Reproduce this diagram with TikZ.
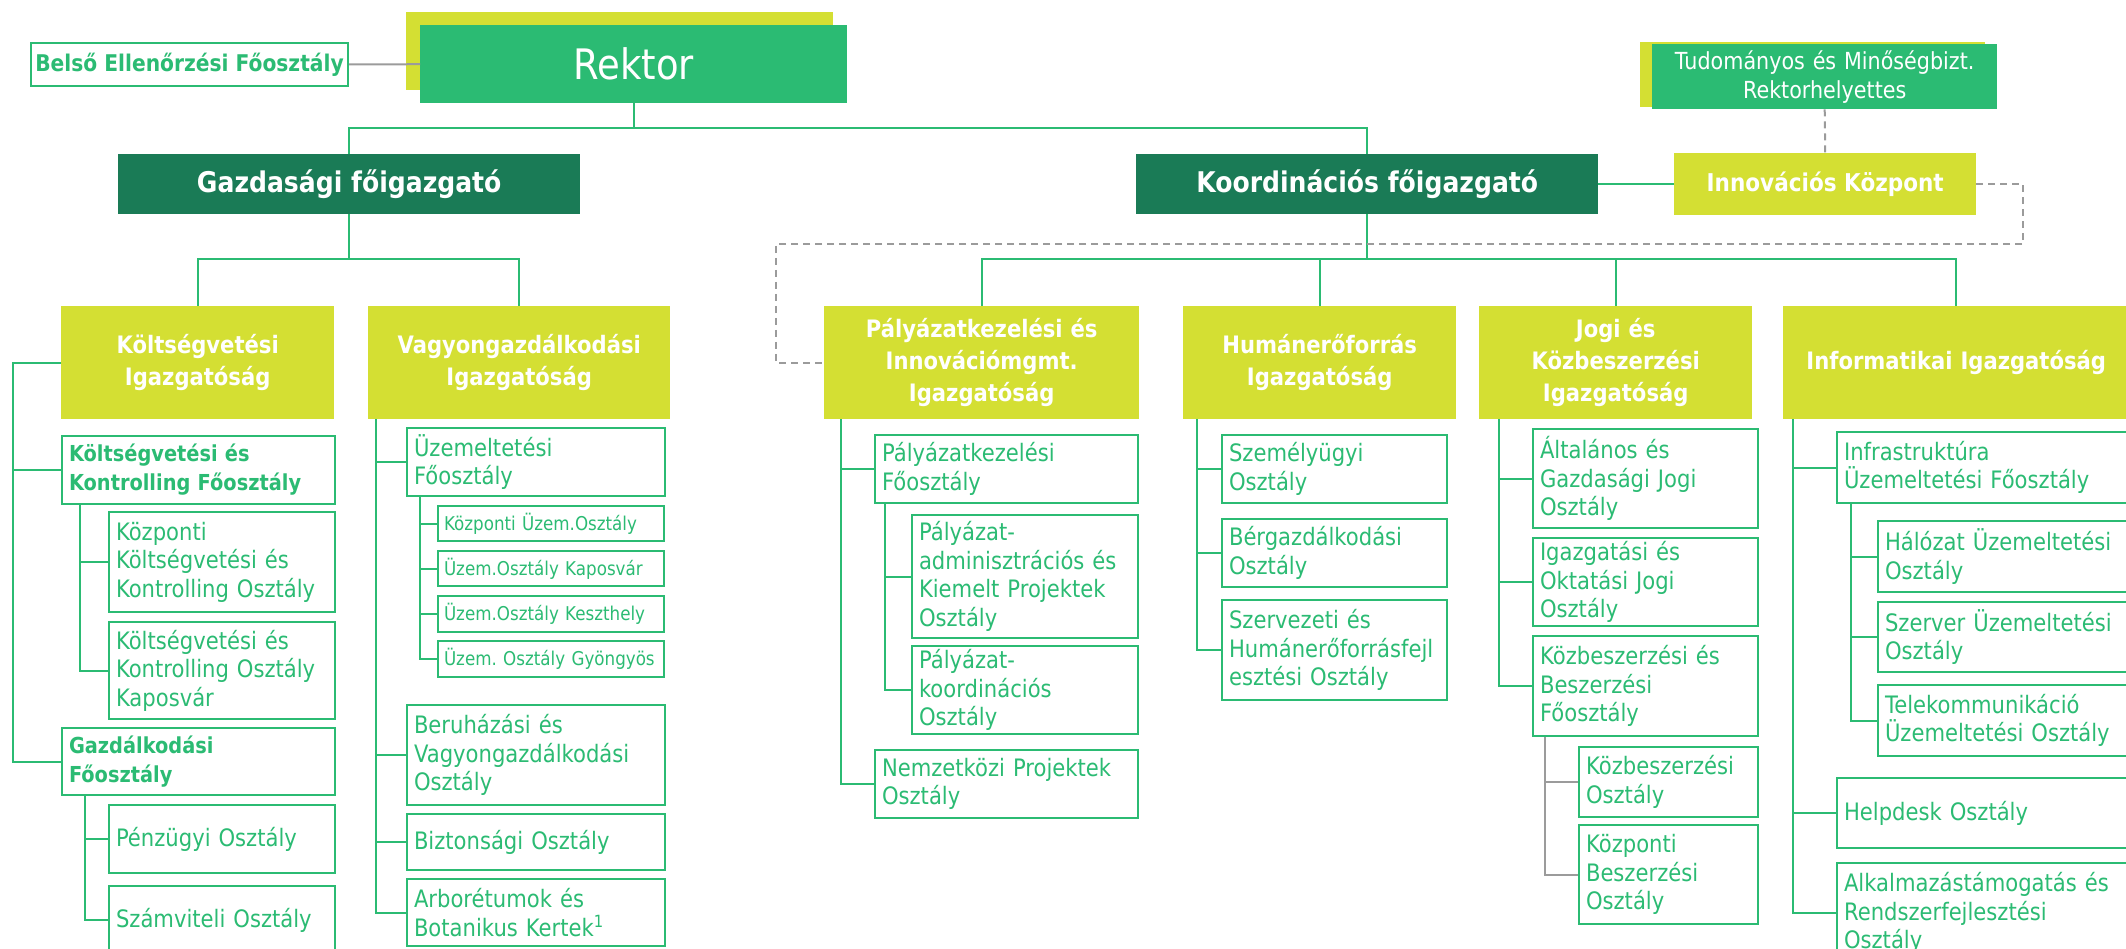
\documentclass[tikz,border=0pt]{standalone}
\usepackage{fontspec}
\setmainfont{DejaVu Sans}[FakeStretch=0.88]
\usetikzlibrary{calc}
\frenchspacing

\definecolor{lgreen}{HTML}{2BBB73}
\definecolor{dgreen}{HTML}{1A7B56}
\definecolor{yellowg}{HTML}{D4DF33}
\definecolor{lgray}{HTML}{9B9B9B}

\newcommand{\unitfont}{\fontsize{24}{28.6}\selectfont}
\newcommand{\unitbold}{\fontsize{22}{29}\selectfont\bfseries}
\newcommand{\smallunitfont}{\fontsize{19}{23}\selectfont}
\newcommand{\headfont}{\fontsize{24}{32}\selectfont\bfseries}

\begin{document}
\begin{tikzpicture}[x=1pt, y=-1pt,
    unit/.style={draw=lgreen, line width=2pt, fill=white, text=lgreen, anchor=north west,
      align=left, inner xsep=7pt, inner ysep=0pt, font=\unitfont},
    smallunit/.style={unit, inner xsep=6pt, font=\smallunitfont},
    head/.style={fill=yellowg, text=white, anchor=north west, align=center, inner sep=0pt,
      minimum height=113pt, font=\headfont},
    director/.style={fill=dgreen, text=white, anchor=north west, inner sep=0pt,
      minimum width=462pt, minimum height=60pt, font=\fontsize{28.5}{32}\selectfont\bfseries},
    staff/.style={draw=lgreen, line width=2pt, fill=white, text=lgreen, anchor=north west,
      inner sep=0pt, font=\fontsize{23}{26}\selectfont\bfseries},
    link/.style={draw=lgreen, line width=2pt},
    greylink/.style={draw=lgray, line width=2pt},
    dashline/.style={draw=lgray, line width=2pt, dash pattern=on 7pt off 5pt}]
    \useasboundingbox (0,0) rectangle (2126,949);

    % --- Top: Rektor, staff and deputy ---
    \fill[yellowg] (406,12) rectangle (833,90);
    \fill[yellowg] (1640,42) rectangle (1985,107);
    \node[fill=lgreen, text=white, anchor=north west, inner sep=0pt, minimum width=427pt,
      minimum height=78pt, font=\fontsize{42}{48}\selectfont] (rektor) at (420,25) {Rektor};
    \node[staff, minimum width=317pt, minimum height=43pt] (belso) at (30,42) {Belső Ellenőrzési Főosztály};
    \node[fill=lgreen, text=white, anchor=north west, inner sep=0pt, text width=345pt, align=center,
      minimum height=65pt, font=\fontsize{23.5}{29}\selectfont] (tud) at (1652,44) {Tudományos és Minőségbizt.\\Rektorhelyettes};
    \draw[greylink] (belso.east) -- (rektor.west);

    % --- Directors ---
    \node[director] (gazd) at (118,154) {Gazdasági főigazgató};
    \node[director] (koord) at (1136,154) {Koordinációs főigazgató};
    \node[fill=yellowg, text=white, anchor=north west, inner sep=0pt, minimum width=302pt,
      minimum height=62pt, font=\fontsize{24.5}{28}\selectfont\bfseries] (innov) at (1674,153) {Innovációs Központ};
    \draw[link] (rektor.south) -- ++(0,25) coordinate (rbus);
    \draw[link] (gazd.north) |- (rbus) -| (koord.north);
    \draw[link] (koord.east) -- (innov.west);
    \draw[dashline] (tud.south) -- (innov.north);

    % --- Directorates ---
    \node[head, text width=273pt] (kig) at (61,306) {Költségvetési\\Igazgatóság};
    \node[head, text width=302pt] (vig) at (368,306) {Vagyongazdálkodási\\Igazgatóság};
    \node[head, text width=315pt] (pig) at (824,306) {Pályázatkezelési és\\Innovációmgmt.\\Igazgatóság};
    \node[head, text width=273pt] (hig) at (1183,306) {Humánerőforrás\\Igazgatóság};
    \node[head, text width=273pt] (jig) at (1479,306) {Jogi és\\Közbeszerzési\\Igazgatóság};
    \node[head, text width=346pt] (iig) at (1783,306) {Informatikai Igazgatóság};
    \draw[link] (gazd.south) -- ++(0,45) coordinate (gbus);
    \draw[link] (kig.north) |- (gbus) -| (vig.north);
    \draw[link] (koord.south) -- ++(0,45) coordinate (kbus);
    \draw[link] (pig.north) |- (kbus) -| (iig.north);
    \draw[link] (hig.north) -- (hig.north |- kbus);
    \draw[link] (jig.north) -- (jig.north |- kbus);
    \draw[dashline] (innov.east) -- ++(47,0) |- (776,244) |- (pig.west);

    % --- Költségvetési Igazgatóság ---
    \node[unit, font=\unitbold, text width=259pt, minimum height=68pt] (kkf) at (61,435) {Költségvetési és\\Kontrolling Főosztály};
    \node[unit, text width=212pt, minimum height=100pt] (kkko) at (108,511) {Központi\\Költségvetési és\\Kontrolling Osztály};
    \node[unit, text width=212pt, minimum height=97pt] (kkok) at (108,621) {Költségvetési és\\Kontrolling Osztály\\Kaposvár};
    \node[unit, font=\unitbold, text width=259pt, minimum height=67pt] (gf) at (61,727) {Gazdálkodási\\Főosztály};
    \node[unit, text width=212pt, minimum height=68pt] (penz) at (108,804) {Pénzügyi Osztály};
    \node[unit, text width=212pt, minimum height=68pt] (szamv) at (108,885) {Számviteli Osztály};
    \draw[link] (kig.west) -- ++(-48,0) |- (gf.west);
    \draw[link] (kkf.west) -- ++(-48,0);
    \draw[link] ([xshift=19pt]kkf.south west) |- (kkok.west) ([xshift=19pt]kkf.south west) |- (kkko.west);
    \draw[link] ([xshift=24pt]gf.south west) |- (szamv.west) ([xshift=24pt]gf.south west) |- (penz.west);

    % --- Vagyongazdálkodási Igazgatóság ---
    \node[unit, text width=244pt, minimum height=68pt] (uzf) at (406,427) {Üzemeltetési\\Főosztály};
    \node[smallunit, text width=214pt, minimum height=35pt] (kuo) at (437,505) {Központi Üzem.Osztály};
    \node[smallunit, text width=214pt, minimum height=35pt] (kapo) at (437,550) {Üzem.Osztály Kaposvár};
    \node[smallunit, text width=214pt, minimum height=36pt] (kesz) at (437,595) {Üzem.Osztály Keszthely};
    \node[smallunit, text width=214pt, minimum height=36pt] (gyon) at (437,640) {Üzem. Osztály Gyöngyös};
    \node[unit, text width=244pt, minimum height=100pt] (beru) at (406,704) {Beruházási és\\Vagyongazdálkodási\\Osztály};
    \node[unit, text width=244pt, minimum height=56pt] (bizt) at (406,813) {Biztonsági Osztály};
    \node[unit, text width=244pt, minimum height=67pt] (arbo) at (406,878) {Arborétumok és\\Botanikus Kertek\textsuperscript{1}};
    \draw[link] ([xshift=8pt]vig.south west) |- (arbo.west) ([xshift=8pt]vig.south west) |- (bizt.west)
      ([xshift=8pt]vig.south west) |- (beru.west) ([xshift=8pt]vig.south west) |- (uzf.west);
    \draw[link] ([xshift=14pt]uzf.south west) |- (gyon.west) ([xshift=14pt]uzf.south west) |- (kesz.west)
      ([xshift=14pt]uzf.south west) |- (kapo.west) ([xshift=14pt]uzf.south west) |- (kuo.west);

    % --- Pályázatkezelési és Innovációmgmt. Igazgatóság ---
    \node[unit, text width=249pt, minimum height=68pt] (pkf) at (874,434) {Pályázatkezelési\\Főosztály};
    \node[unit, text width=212pt, minimum height=123pt] (padm) at (911,514) {Pályázat-\\adminisztrációs és\\Kiemelt Projektek\\Osztály};
    \node[unit, text width=212pt, minimum height=88pt] (pkoo) at (911,645) {Pályázat-\\koordinációs\\Osztály};
    \node[unit, text width=249pt, minimum height=68pt] (nemz) at (874,749) {Nemzetközi Projektek\\Osztály};
    \draw[link] ([xshift=17pt]pig.south west) |- (nemz.west) ([xshift=17pt]pig.south west) |- (pkf.west);
    \draw[link] ([xshift=11pt]pkf.south west) |- (pkoo.west) ([xshift=11pt]pkf.south west) |- (padm.west);

    % --- Humánerőforrás Igazgatóság ---
    \node[unit, text width=211pt, minimum height=68pt] (szem) at (1221,434) {Személyügyi\\Osztály};
    \node[unit, text width=211pt, minimum height=68pt] (berg) at (1221,518) {Bérgazdálkodási\\Osztály};
    \node[unit, text width=211pt, minimum height=100pt] (szerv) at (1221,599) {Szervezeti és\\Humánerőforrásfejl\\esztési Osztály};
    \draw[link] ([xshift=14pt]hig.south west) |- (szerv.west) ([xshift=14pt]hig.south west) |- (berg.west)
      ([xshift=14pt]hig.south west) |- (szem.west);

    % --- Jogi és Közbeszerzési Igazgatóság ---
    \node[unit, text width=211pt, minimum height=99pt] (altj) at (1532,428) {Általános és\\Gazdasági Jogi\\Osztály};
    \node[unit, text width=211pt, minimum height=88pt] (igoj) at (1532,537) {Igazgatási és\\Oktatási Jogi\\Osztály};
    \node[unit, text width=211pt, minimum height=100pt] (kbf) at (1532,635) {Közbeszerzési és\\Beszerzési\\Főosztály};
    \node[unit, text width=165pt, minimum height=70pt] (kbo) at (1578,746) {Közbeszerzési\\Osztály};
    \node[unit, text width=165pt, minimum height=99pt] (kpbo) at (1578,824) {Központi\\Beszerzési\\Osztály};
    \draw[link] ([xshift=20pt]jig.south west) |- (kbf.west) ([xshift=20pt]jig.south west) |- (igoj.west)
      ([xshift=20pt]jig.south west) |- (altj.west);
    \draw[greylink] ([xshift=13pt]kbf.south west) |- (kpbo.west) ([xshift=13pt]kbf.south west) |- (kbo.west);

    % --- Informatikai Igazgatóság ---
    \node[unit, text width=290pt, minimum height=71pt] (infra) at (1836,431) {Infrastruktúra\\Üzemeltetési Főosztály};
    \node[unit, text width=249pt, minimum height=71pt] (halo) at (1877,520) {Hálózat Üzemeltetési\\Osztály};
    \node[unit, text width=249pt, minimum height=70pt] (szer) at (1877,601) {Szerver Üzemeltetési\\Osztály};
    \node[unit, text width=249pt, minimum height=71pt] (tele) at (1877,684) {Telekommunikáció\\Üzemeltetési Osztály};
    \node[unit, text width=290pt, minimum height=70pt] (help) at (1836,777) {Helpdesk Osztály};
    \node[unit, text width=290pt, minimum height=100pt] (alka) at (1836,862) {Alkalmazástámogatás és\\Rendszerfejlesztési\\Osztály};
    \draw[link] ([xshift=10pt]iig.south west) |- (alka.west) ([xshift=10pt]iig.south west) |- (help.west)
      ([xshift=10pt]iig.south west) |- (infra.west);
    \draw[link] ([xshift=15pt]infra.south west) |- (tele.west) ([xshift=15pt]infra.south west) |- (szer.west)
      ([xshift=15pt]infra.south west) |- (halo.west);
\end{tikzpicture}
\end{document}
